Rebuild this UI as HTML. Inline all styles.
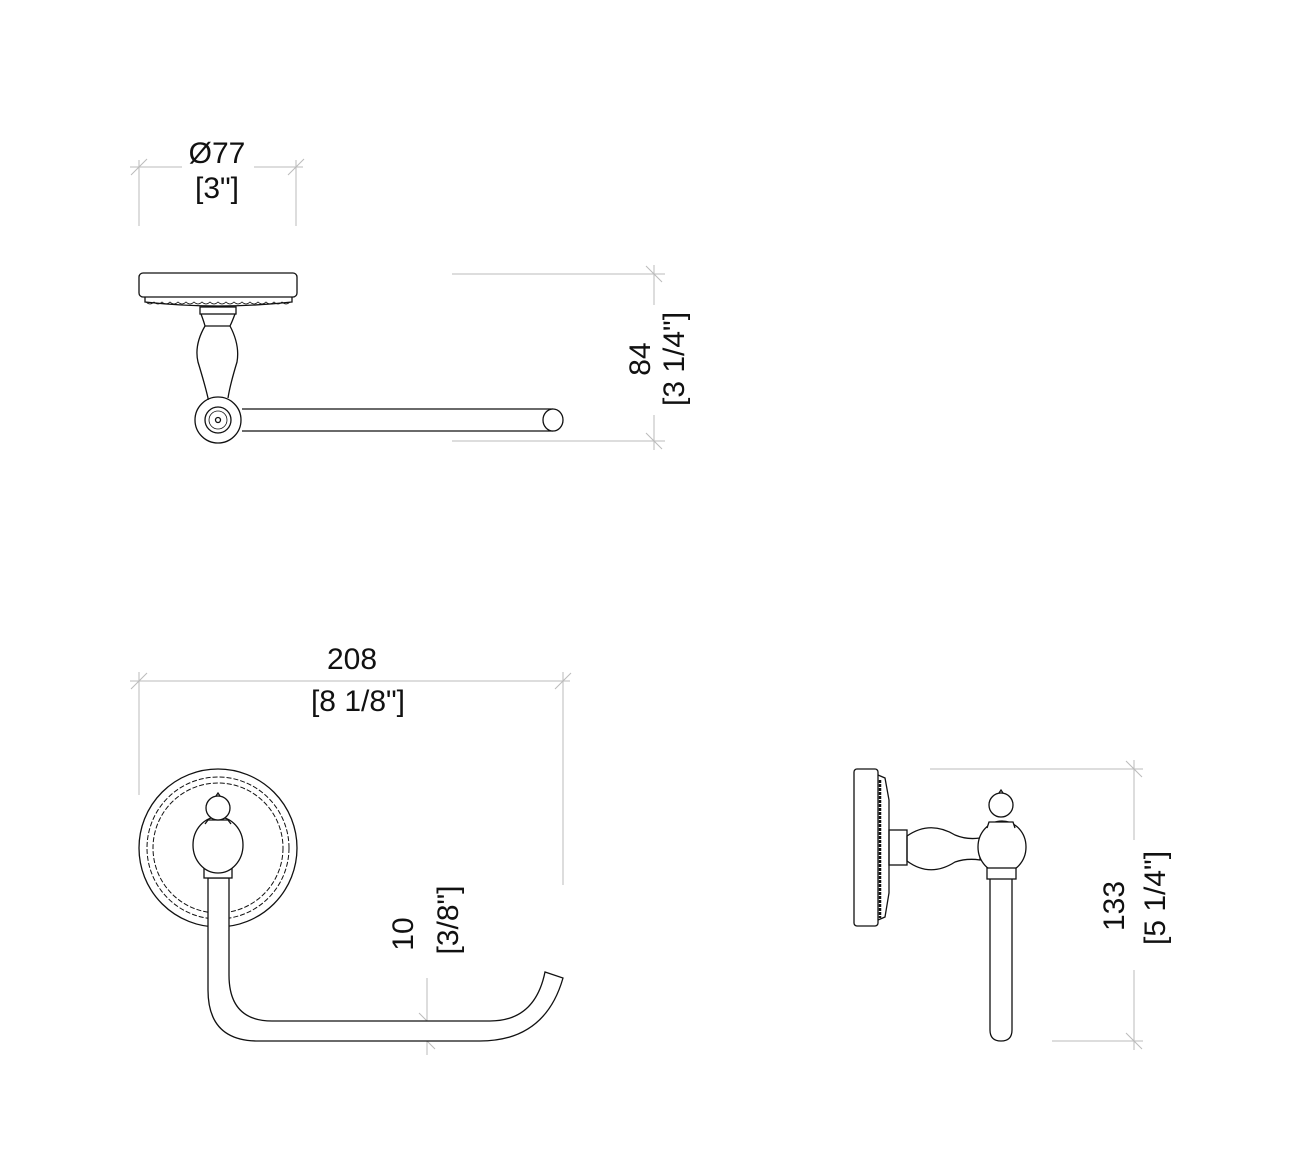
<!DOCTYPE html>
<html><head><meta charset="utf-8"><style>
html,body{margin:0;padding:0;background:#fff}
svg{display:block}
text{font-family:"Liberation Sans",sans-serif;font-size:30px;fill:#111}
</style></head><body>
<svg width="1294" height="1164" viewBox="0 0 1294 1164" xmlns="http://www.w3.org/2000/svg">
<g stroke="#bbb" stroke-width="1" fill="none">
 <!-- Ø77 -->
 <line x1="130" y1="167" x2="182" y2="167"/><line x1="254" y1="167" x2="303" y2="167"/>
 <line x1="139" y1="160" x2="139" y2="226"/><line x1="296" y1="160" x2="296" y2="226"/>
 <line x1="131" y1="175" x2="147" y2="159"/><line x1="288" y1="175" x2="304" y2="159"/>
 <!-- 84 -->
 <line x1="452" y1="274" x2="665" y2="274"/><line x1="452" y1="441" x2="665" y2="441"/>
 <line x1="654" y1="265" x2="654" y2="305"/><line x1="654" y1="415" x2="654" y2="450"/>
 <line x1="646" y1="266" x2="662" y2="282"/><line x1="646" y1="433" x2="662" y2="449"/>
 <!-- 208 -->
 <line x1="130" y1="681" x2="570" y2="681"/>
 <line x1="139" y1="672" x2="139" y2="795"/><line x1="563" y1="672" x2="563" y2="885"/>
 <line x1="131" y1="689" x2="147" y2="673"/><line x1="555" y1="689" x2="571" y2="673"/>
 <!-- 10 -->
 <line x1="427" y1="978" x2="427" y2="1055"/>
 <line x1="419" y1="1013" x2="435" y2="1029"/><line x1="419" y1="1033" x2="435" y2="1049"/>
 <!-- 133 -->
 <line x1="930" y1="769" x2="1143" y2="769"/><line x1="1052" y1="1041" x2="1143" y2="1041"/>
 <line x1="1134" y1="760" x2="1134" y2="840"/><line x1="1134" y1="970" x2="1134" y2="1050"/>
 <line x1="1126" y1="761" x2="1142" y2="777"/><line x1="1126" y1="1033" x2="1142" y2="1049"/>
</g>

<text x="217" y="163" text-anchor="middle">Ø77</text>
<text x="217" y="198" text-anchor="middle">[3"]</text>
<text transform="translate(650,359) rotate(-90)" text-anchor="middle">84</text>
<text transform="translate(684,359) rotate(-90)" text-anchor="middle">[3 1/4"]</text>
<text x="352" y="669" text-anchor="middle">208</text>
<text x="358" y="711" text-anchor="middle">[8 1/8"]</text>
<text transform="translate(413,934) rotate(-90)" text-anchor="middle">10</text>
<text transform="translate(458,920) rotate(-90)" text-anchor="middle">[3/8"]</text>
<text transform="translate(1124,906) rotate(-90)" text-anchor="middle">133</text>
<text transform="translate(1165,898) rotate(-90)" text-anchor="middle">[5 1/4"]</text>

<g stroke="#111" stroke-width="1.3" fill="none">
 <!-- top view -->
 <rect x="139" y="273" width="158" height="24" rx="4"/>
 <path d="M145 297 L145 302 Q218 310 292 302 L292 297"/>
 <path d="M146 302 q4 4 8 0 q4 4 8 0 q4 4 8 0 q4 4 8 0 q4 4 8 0 q4 4 8 0 q4 4 8 0 q4 4 8 0 q4 4 8 0 q4 4 8 0 q4 4 8 0 q4 4 8 0 q4 4 8 0 q4 4 8 0 q4 4 8 0 q4 4 8 0 q4 4 8 0 q4 4 8 0" stroke-width="0.8"/>
 <rect x="200" y="307" width="36" height="7"/>
 <path d="M201 314 Q204 322 205 326 Q194 345 198 362 Q205 385 208 398 L208 400 M235 314 Q232 322 230 326 Q240 345 237 362 Q230 385 228 398"/>
 <line x1="205" y1="326" x2="230" y2="326"/>
 <circle cx="218" cy="420" r="23"/>
 <circle cx="218" cy="420" r="13"/>
 <circle cx="218" cy="420" r="9" stroke-width="0.8"/>
 <circle cx="218" cy="420" r="2.5"/>
 <path d="M242 409 L553 409 M242 431 L553 431"/>
 <ellipse cx="553" cy="420" rx="10" ry="11" fill="#fff"/>

 <!-- front view -->
 <circle cx="218" cy="848" r="79"/>
 <circle cx="218" cy="848" r="71" stroke-dasharray="5 2" stroke-width="1"/>
 <circle cx="218" cy="848" r="65" stroke-dasharray="5 2" stroke-width="1"/>
 <path d="M208 878 L208 990 Q208 1041 258 1041 L480 1041 Q545 1041 563 978 L545 972 Q535 1021 490 1021 L272 1021 Q229 1021 229 975 L229 878 Z" fill="#fff"/>
 <rect x="204" y="866" width="28" height="12" fill="#fff"/>
 <ellipse cx="218" cy="845" rx="25" ry="28" fill="#fff"/>
 <path d="M205 824 L208 820 L228 820 L231 824" fill="#fff"/>
 <circle cx="218" cy="808" r="12" fill="#fff"/>
 <path d="M216 796 L218 793 L220 796"/>

 <!-- side view -->
 <rect x="854" y="769" width="24" height="157" rx="3"/>
 <path d="M878 775 L885 778 L889 800 L889 893 L885 917 L878 920"/>
 <path d="M880 780 v138" stroke-dasharray="3 1" stroke-width="2.5"/>
 <rect x="889" y="830" width="18" height="35"/>
 <path d="M907 836 Q930 820 955 835 Q967 840 980 838 L980 860 Q967 858 955 862 Q930 878 907 861 Z"/>
 <path d="M990 878 L990 1030 Q990 1041 1001 1041 Q1012 1041 1012 1030 L1012 878"/>
 <ellipse cx="1002" cy="847" rx="24" ry="26" fill="#fff"/>
 <rect x="987" y="868" width="29" height="11" fill="#fff"/>
 <path d="M987 828 L989 822 L1013 822 L1015 828" fill="#fff"/>
 <circle cx="1001" cy="805" r="12" fill="#fff"/>
 <path d="M999 793 L1001 790 L1003 793"/>
</g>
</svg>
</body></html>
